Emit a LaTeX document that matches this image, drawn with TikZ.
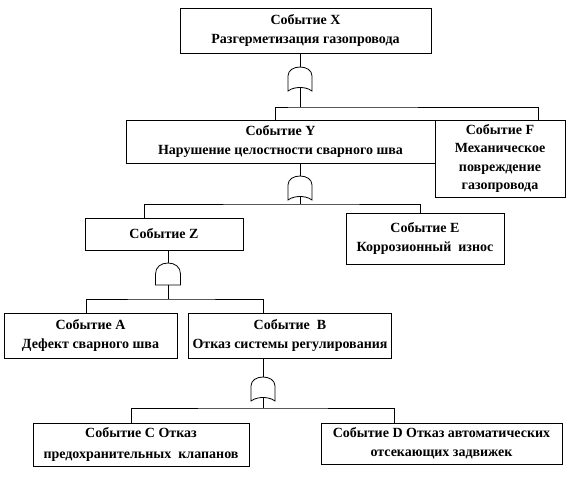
\documentclass[tikz,border=0pt]{standalone}
\usepackage{fontspec}
\setmainfont{Liberation Serif}
\begin{document}
\begin{tikzpicture}[x=1pt,y=-1pt,
  box/.style={draw, line width=0.9pt, font=\bfseries\fontsize{14}{19}\selectfont, align=center, inner sep=0pt},
  wire/.style={line width=0.8pt},
  orgate/.pic={\draw[wire, fill=white] (-12,12) -- (-12,-3) .. controls (-12,-9) and (-6,-12) .. (0,-12) .. controls (6,-12) and (12,-9) .. (12,-3) -- (12,12) .. controls (8,9) and (3,8.5) .. (0,8.5) .. controls (-3,8.5) and (-8,9) .. (-12,12) -- cycle;},
  andgate/.pic={\draw[wire, fill=white] (-12.5,11) -- (-12.5,0) .. controls (-12.5,-7) and (-7,-11) .. (0,-11) .. controls (7,-11) and (12.5,-7) .. (12.5,0) -- (12.5,11) -- cycle;}
]
\useasboundingbox (0,0) rectangle (570,477);

% boxes
\node[box, minimum width=251pt, minimum height=45pt] (X) at (305.5,30.5) {Событие X\\Разгерметизация газопровода};
\node[box, minimum width=309pt, minimum height=43pt] (Y) at (280.5,141.5) {Событие Y\\Нарушение целостности сварного шва};
\node[box, minimum width=130pt, minimum height=77pt, font=\bfseries\fontsize{14}{18.3}\selectfont] (F) at (500,158.5) {Событие F\\Механическое\\повреждение\\газопровода};
\node[box, minimum width=158pt, minimum height=32pt] (Z) at (164,234) {Событие Z};
\node[box, minimum width=158pt, minimum height=51pt] (E) at (425,238.5) {Событие E\\Коррозионный\ \ износ};
\node[box, minimum width=173pt, minimum height=45pt] (A) at (90.5,335.5) {Событие A\\Дефект сварного шва};
\node[box, minimum width=203pt, minimum height=45pt] (B) at (290,335.5) {Событие\ \ B\\Отказ системы регулирования};
\node[box, minimum width=216pt, minimum height=43pt, font=\bfseries\fontsize{14}{21}\selectfont] (C) at (141,444.5) {Событие C Отказ\\предохранительных\ \ клапанов};
\node[box, minimum width=241pt, minimum height=41pt] (D) at (441.5,443.5) {Событие D Отказ автоматических\\отсекающих задвижек};

% gate 1 (OR)
\pic at (300,79) {orgate};
\coordinate (g1t) at (300,67);
\coordinate (g1b) at (300,87.5);
\coordinate (j1) at (300,107);
\coordinate (yin) at (275,120);
\coordinate (fin) at (538,120);
\draw[wire] (X.south -| g1t) -- (g1t);
\draw[wire] (g1b) -- (j1);
\draw[wire] (yin) |- (j1) -| (fin);

% gate 2 (OR)
\pic at (300,188) {orgate};
\coordinate (g2t) at (300,176);
\coordinate (g2b) at (300,196.5);
\coordinate (j2) at (300,204);
\coordinate (zin) at (144,218);
\coordinate (ein) at (420,213);
\draw[wire] (Y.south -| g2t) -- (g2t);
\draw[wire] (g2b) -- (j2);
\draw[wire] (zin) |- (j2) -| (ein);

% gate 3 (AND)
\pic at (168,274) {andgate};
\coordinate (g3t) at (168,263);
\coordinate (g3b) at (168,285);
\coordinate (j3) at (168,299);
\coordinate (ain) at (86,313);
\coordinate (bin) at (263,313);
\draw[wire] (Z.south -| g3t) -- (g3t);
\draw[wire] (g3b) -- (j3);
\draw[wire] (ain) |- (j3) -| (bin);

% gate 4 (OR)
\pic at (263,389) {orgate};
\coordinate (g4t) at (263,377);
\coordinate (g4b) at (263,397.5);
\coordinate (j4) at (263,408);
\coordinate (cin) at (131,423);
\coordinate (din) at (394,423);
\draw[wire] (B.south -| g4t) -- (g4t);
\draw[wire] (g4b) -- (j4);
\draw[wire] (cin) |- (j4) -| (din);
\end{tikzpicture}
\end{document}
